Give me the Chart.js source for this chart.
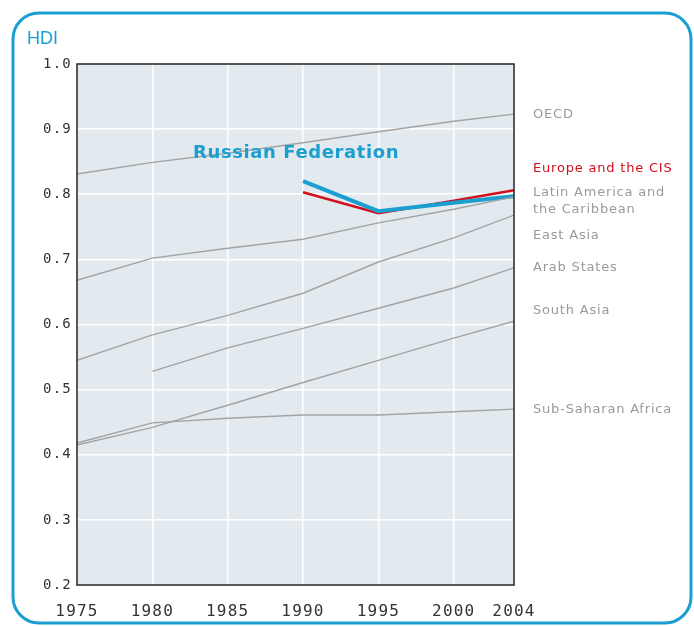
<!DOCTYPE html>
<html>
<head>
<meta charset="utf-8">
<script src="https://cdn.jsdelivr.net/npm/chart.js@4"></script>
<style>
  html, body { margin: 0; padding: 0; background: #fff; }
  #wrap { width: 694px; height: 626px; position: relative; }
</style>
</head>
<body>
<div id="wrap"><canvas id="hdiChart"></canvas></div>
<script>
// Data
const years = [1975, 1980, 1985, 1990, 1995, 2000, 2004];
const xTicks = [1975, 1980, 1985, 1990, 1995, 2000, 2004];

const oecd = [0.831, 0.849, 0.863, 0.879, 0.896, 0.912, 0.923];
const latinAmerica = [0.668, 0.702, 0.717, 0.731, 0.756, 0.777, 0.796];
const eastAsia = [0.545, 0.584, 0.614, 0.648, 0.696, 0.733, 0.768];
const arabStates = [null, 0.528, 0.564, 0.594, 0.625, 0.656, 0.687];
const southAsia = [0.415, 0.442, 0.476, 0.511, 0.545, 0.579, 0.605];
const subSaharan = [0.418, 0.449, 0.456, 0.461, 0.461, 0.466, 0.470];
const europeCIS = [null, null, null, 0.803, 0.771, 0.790, 0.806];
const russia = [null, null, null, 0.820, 0.774, 0.787, 0.797];

const regionLabels = ['OECD', 'Europe and the CIS', 'Latin America and', 'the Caribbean', 'East Asia', 'Arab States', 'South Asia', 'Sub-Saharan Africa'];
const regionLabelValues = [0.922, 0.840, 0.803, 0.777, 0.737, 0.687, 0.621, 0.470];

const BLUE = '#1a9fd0';
const RED = '#d2101c';
const GREY = '#a3a3a3';

function toPoints(vals) {
    return years.map((yr, i) => ({ x: yr, y: vals[i] })).filter(p => p.y !== null);
}

function greyLine(vals) {
    return { data: toPoints(vals), borderColor: GREY, borderWidth: 1.4, pointRadius: 0, tension: 0 };
}

// background, frame and text annotations
const decorPlugin = {
    id: 'decor',
    beforeDraw(chart) {
        const ctx = chart.ctx;
        const a = chart.chartArea;
        ctx.save();
        ctx.fillStyle = '#fff';
        ctx.fillRect(0, 0, chart.width, chart.height);
        // rounded blue frame
        ctx.strokeStyle = BLUE;
        ctx.lineWidth = 3;
        ctx.beginPath();
        ctx.roundRect(13, 13, 678, 610, 26);
        ctx.stroke();
        // plot background
        ctx.fillStyle = '#e2eaef';
        ctx.fillRect(a.left, a.top, a.right - a.left, a.bottom - a.top);
        // HDI title
        ctx.fillStyle = BLUE;
        ctx.font = '18px "Liberation Sans"';
        ctx.textBaseline = 'middle';
        ctx.fillText('HDI', 27, 39);
        ctx.restore();
        // spaced-out tick labels
        ctx.letterSpacing = '1.2px';
    },
    afterDraw(chart) {
        const ctx = chart.ctx;
        const a = chart.chartArea;
        const ys = chart.scales.y;
        const xs = chart.scales.x;
        ctx.save();
        ctx.strokeStyle = '#222';
        ctx.lineWidth = 1.5;
        ctx.strokeRect(a.left, a.top, a.right - a.left, a.bottom - a.top);

        ctx.font = '13px "DejaVu Sans"';
        ctx.letterSpacing = '0.8px';
        ctx.textBaseline = 'middle';
        regionLabels.forEach((txt, i) => {
            ctx.fillStyle = i === 1 ? RED : '#9a9a9a';
            ctx.fillText(txt, 533, ys.getPixelForValue(regionLabelValues[i]));
        });

        ctx.fillStyle = BLUE;
        ctx.font = 'bold 18px "DejaVu Sans"';
        ctx.letterSpacing = '0.6px';
        ctx.fillText('Russian Federation', xs.getPixelForValue(1982.7), ys.getPixelForValue(0.863));
        ctx.restore();
        ctx.letterSpacing = '0px';
    }
};

new Chart(document.getElementById('hdiChart'), {
    type: 'line',
    data: {
        datasets: [
            greyLine(oecd),
            greyLine(latinAmerica),
            greyLine(eastAsia),
            greyLine(arabStates),
            greyLine(southAsia),
            greyLine(subSaharan),
            { data: toPoints(russia), borderColor: BLUE, borderWidth: 4, pointRadius: 0, tension: 0 },
            { data: toPoints(europeCIS), borderColor: RED, borderWidth: 2.5, pointRadius: 0, tension: 0 }
        ]
    },
    options: {
        responsive: true,
        maintainAspectRatio: false,
        animation: false,
        layout: { padding: { top: 64, right: 180, left: 0, bottom: 0 } },
        plugins: { legend: { display: false }, tooltip: { enabled: false } },
        scales: {
            x: {
                type: 'linear',
                min: 1975,
                max: 2004,
                afterBuildTicks: scale => { scale.ticks = xTicks.map(v => ({ value: v })); },
                afterFit: scale => { scale.height = 41; },
                grid: { color: '#fff', lineWidth: 1.5, drawTicks: false },
                border: { display: false },
                ticks: {
                    padding: 17,
                    autoSkip: false,
                    maxRotation: 0,
                    color: '#333',
                    font: { family: '"DejaVu Sans Mono"', size: 16 },
                    callback: v => String(v)
                }
            },
            y: {
                min: 0.2,
                max: 1.0,
                afterFit: scale => { scale.width = 77; },
                grid: { color: '#fff', lineWidth: 1.5, drawTicks: false },
                border: { display: false },
                ticks: {
                    stepSize: 0.1,
                    padding: 5,
                    color: '#333',
                    font: { family: '"DejaVu Sans Mono"', size: 14 },
                    callback: v => v.toFixed(1)
                }
            }
        }
    },
    plugins: [decorPlugin]
});
</script>
</body>
</html>
